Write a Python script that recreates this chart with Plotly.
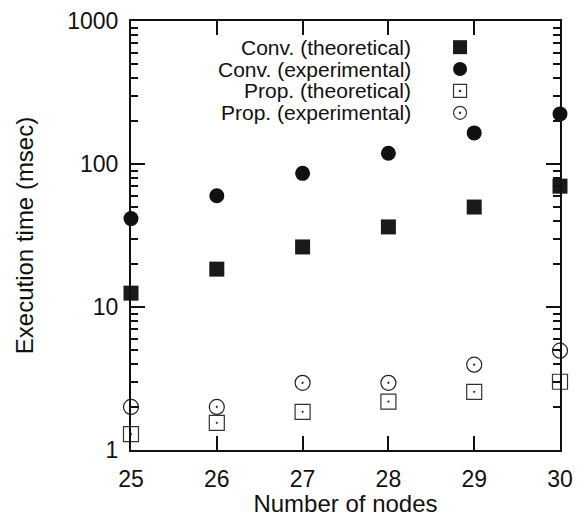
import plotly.graph_objects as go

nodes = [25, 26, 27, 28, 29, 30]
conv_theo = [12.5, 18.4, 26.3, 36.3, 50, 70]
conv_exp = [41.5, 60, 86, 119, 165, 224]
prop_theo = [1.29, 1.55, 1.85, 2.18, 2.55, 3.0]
prop_exp = [2.0, 2.0, 2.95, 2.95, 3.95, 4.95]
names = ["Conv. (theoretical)", "Conv. (experimental)",
         "Prop. (theoretical)", "Prop. (experimental)"]
x_title = "Number of nodes"
y_title = "Execution time (msec)"

FONT = "Liberation Sans, Arial, sans-serif"

fig = go.Figure()
series = [conv_theo, conv_exp, prop_theo, prop_exp]
styles = [
    dict(symbol="square", size=15, color="#1a1a1a"),
    dict(symbol="circle", size=15, color="#111111"),
    dict(symbol="square-open-dot", size=15, color="#333333", line=dict(width=1.2, color="#333333")),
    dict(symbol="circle-open-dot", size=15, color="#222222", line=dict(width=1.2, color="#222222")),
]
for nm, ys, st in zip(names, series, styles):
    fig.add_trace(go.Scatter(x=nodes, y=ys, mode="markers", name=nm,
                             marker=st, cliponaxis=False, showlegend=False))

minor_vals = []
for dec in [1, 10, 100]:
    for m in range(2, 10):
        minor_vals.append(dec * m)

fig.update_xaxes(range=[25, 30], tickvals=nodes, ticks="inside", ticklen=14,
                 tickwidth=2, tickcolor="#111", showline=True, linewidth=2,
                 linecolor="#111", mirror="allticks", showgrid=False, zeroline=False,
                 ticklabelstandoff=7, automargin=False,
                 tickfont=dict(family=FONT, size=23, color="#111"),
                 title=dict(text=x_title, font=dict(family=FONT, size=24, color="#111"),
                            standoff=22))
fig.update_yaxes(type="log", range=[0, 3], tickvals=[1, 10, 100, 1000],
                 ticktext=["1", "10", "100", "1000"], ticks="inside", ticklen=14,
                 tickwidth=2, tickcolor="#111", showline=True, linewidth=2,
                 linecolor="#111", mirror="allticks", showgrid=False, zeroline=False,
                 ticklabelstandoff=6, automargin=False,
                 minor=dict(tickvals=minor_vals, ticks="inside", ticklen=7,
                            tickwidth=1.5, tickcolor="#111", showgrid=False),
                 tickfont=dict(family=FONT, size=23, color="#111"),
                 title=dict(text=y_title, font=dict(family=FONT, size=24, color="#111"),
                            standoff=27))

# legend drawn manually: text left of key, as in the original
ann = []
shapes = []
rows = [0.939, 0.888, 0.837, 0.786]
kx = 0.767
h = 0.5 * 14 / 429      # half key size in paper units (plot area is 429 px square)
d = 0.5 * 2.2 / 429     # half dot size
for i, (nm, yy) in enumerate(zip(names, rows)):
    ann.append(dict(xref="paper", yref="paper", x=0.657, y=yy, text=nm, showarrow=False,
                    xanchor="right", yanchor="middle",
                    font=dict(family=FONT, size=21, color="#111")))
    if i == 0:
        shapes.append(dict(type="rect", xref="paper", yref="paper", x0=kx - h, x1=kx + h,
                           y0=yy - h, y1=yy + h, fillcolor="#1a1a1a", line=dict(width=0)))
    elif i == 1:
        shapes.append(dict(type="circle", xref="paper", yref="paper", x0=kx - h, x1=kx + h,
                           y0=yy - h, y1=yy + h, fillcolor="#111111", line=dict(width=0)))
    else:
        hh = h * 0.93
        shapes.append(dict(type="rect" if i == 2 else "circle", xref="paper", yref="paper",
                           x0=kx - hh, x1=kx + hh, y0=yy - hh, y1=yy + hh,
                           fillcolor="rgba(0,0,0,0)", line=dict(width=1.2, color="#333333")))
        shapes.append(dict(type="rect", xref="paper", yref="paper", x0=kx - d, x1=kx + d,
                           y0=yy - d, y1=yy + d, fillcolor="#333333", line=dict(width=0)))

fig.update_layout(width=584, height=517, margin=dict(l=131, r=24, t=21, b=67),
                  paper_bgcolor="white", plot_bgcolor="white", annotations=ann, shapes=shapes)

fig.write_html("out.html")
